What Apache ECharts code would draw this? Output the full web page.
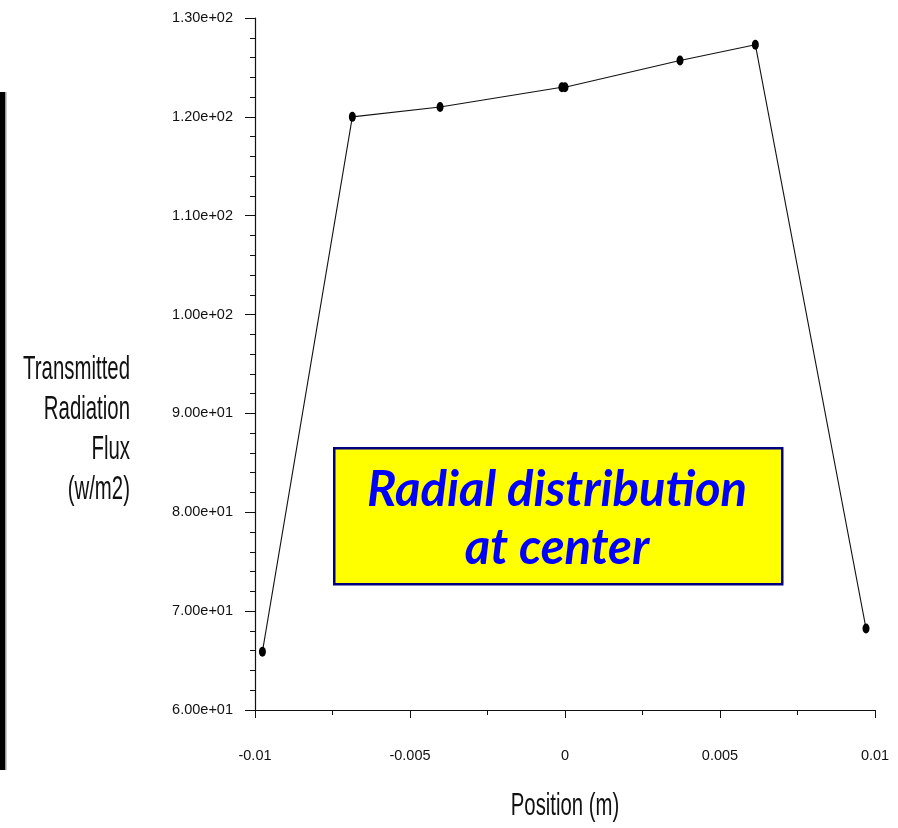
<!DOCTYPE html>
<html>
<head>
<meta charset="utf-8">
<script src="https://cdn.jsdelivr.net/npm/echarts@6/dist/echarts.min.js"></script>
<style>html,body{margin:0;padding:0;background:#fff}#chart{width:898px;height:828px}</style>
</head>
<body>
<div id="chart"></div>
<script>
const positions = [-0.00976, -0.00686, -0.00403, -0.0001, 0.0, 0.00371, 0.00614, 0.00971];
const fluxValues = [65.9, 120.0, 121.0, 123.0, 123.0, 125.7, 127.3, 68.25];
const xTicks = [-0.01, -0.005, 0, 0.005, 0.01];
const yAxisTitle = ['Transmitted', 'Radiation', 'Flux', '(w/m2)'];
const xAxisTitle = 'Position (m)';
const boxText = ['Radial distribution', 'at center'];

function sci(v) {
  const s = v.toExponential(2);
  const m = s.match(/^(-?[\d.]+)e([+-])(\d+)$/);
  return m[1] + 'e' + m[2] + (m[3].length < 2 ? '0' + m[3] : m[3]);
}

const chart = echarts.init(document.getElementById('chart'));
const font = '"Liberation Sans", Arial, sans-serif';
chart.setOption({
  animation: false,
  backgroundColor: '#fff',
  grid: { left: 255, top: 18, right: 23, bottom: 118, containLabel: false },
  xAxis: {
    type: 'value', min: xTicks[0], max: xTicks[xTicks.length - 1], interval: 0.005,
    axisLine: { show: true, onZero: false, lineStyle: { color: '#111', width: 1.2 } },
    axisTick: { show: true, inside: false, length: 8, lineStyle: { color: '#111' } },
    minorTick: { show: true, splitNumber: 2, length: 5, lineStyle: { color: '#111' } },
    splitLine: { show: false },
    axisLabel: { margin: 38, color: '#111', fontSize: 14.5, fontFamily: font,
      formatter: v => String(+v.toFixed(4)) }
  },
  yAxis: {
    type: 'value', min: 60, max: 130, interval: 10,
    axisLine: { show: true, onZero: false, lineStyle: { color: '#111', width: 1.2 } },
    axisTick: { show: true, inside: false, length: 10, lineStyle: { color: '#111' } },
    minorTick: { show: true, splitNumber: 5, length: 5, lineStyle: { color: '#111' } },
    splitLine: { show: false },
    axisLabel: { margin: 22, color: '#111', fontSize: 14.5, fontFamily: font, formatter: v => sci(v) }
  },
  series: [{
    type: 'line',
    data: positions.map((x, i) => [x, fluxValues[i]]),
    symbol: 'circle', symbolSize: [7, 10], showSymbol: true,
    lineStyle: { color: '#111', width: 1.1 },
    itemStyle: { color: '#000' }
  }],
  graphic: [
    { type: 'rect', left: 0, top: 92, shape: { width: 5, height: 678 }, style: { fill: '#000' } },
    { type: 'rect', left: 5, top: 92, shape: { width: 1.5, height: 678 }, style: { fill: '#999' } },
    { type: 'text', x: 130, y: 350, scaleX: 0.6,
      style: { text: yAxisTitle.join('\n'), fill: '#111', font: '34px ' + font, lineHeight: 40,
        textAlign: 'right', textVerticalAlign: 'top' } },
    { type: 'text', x: 565, y: 790, scaleX: 0.635,
      style: { text: xAxisTitle, fill: '#111', font: '32px ' + font,
        textAlign: 'center', textVerticalAlign: 'top' } },
    { type: 'rect', left: 333, top: 447, shape: { width: 448, height: 136 },
      style: { fill: '#ffff00', stroke: '#000080', lineWidth: 2.5 } },
    { type: 'text', x: 557, y: 461,
      style: { text: boxText.join('\n'), fill: '#0000ff', font: 'italic bold 49px Lato, "Open Sans", sans-serif',
        lineHeight: 58, textAlign: 'center', textVerticalAlign: 'top' } }
  ]
});
</script>
</body>
</html>
